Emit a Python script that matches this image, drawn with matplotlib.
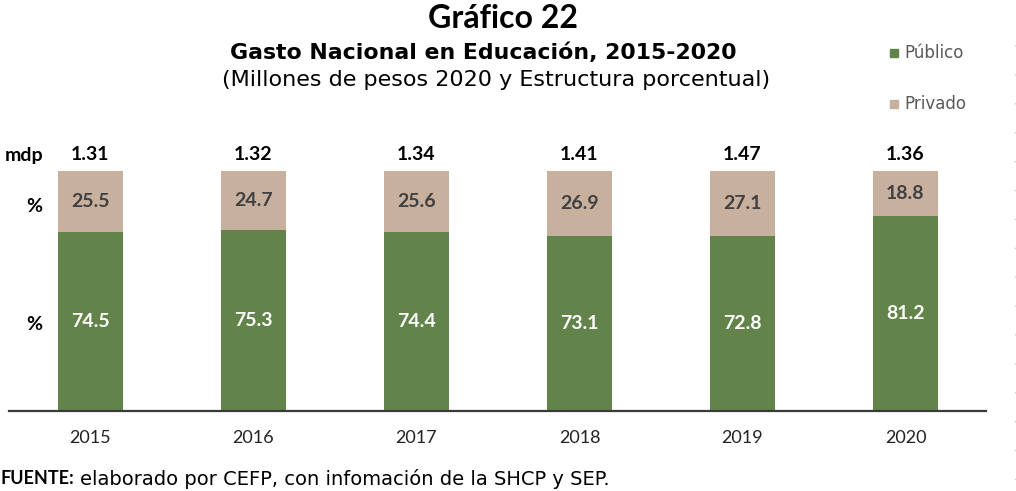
import matplotlib
matplotlib.use("Agg")
import matplotlib.pyplot as plt
from matplotlib.lines import Line2D

# Data
years = ["2015", "2016", "2017", "2018", "2019", "2020"]
publico = [74.5, 75.3, 74.4, 73.1, 72.8, 81.2]
privado = [25.5, 24.7, 25.6, 26.9, 27.1, 18.8]
totales = ["1.31", "1.32", "1.34", "1.41", "1.47", "1.36"]

GREEN = "#62834A"
TAN = "#C8B09F"
NUM_FONT = ["Lato", "DejaVu Sans"]
TXT_FONT = ["DejaVu Sans"]

W, H = 1016, 491
plt.rcParams["font.family"] = NUM_FONT

fig = plt.figure(figsize=(W / 100, H / 100), dpi=100)


def fx(x):
    return x / W


def fy(y):
    return 1 - y / H


ax = fig.add_axes([fx(9), fy(411), (986 - 9) / W, 240 / H])
x = list(range(len(years)))
bw = 0.40

ax.bar(x, publico, width=bw, color=GREEN, zorder=2)
ax.bar(x, privado, width=bw, bottom=publico, color=TAN, zorder=2)

for i in x:
    ax.text(i, publico[i] / 2, f"{publico[i]:.1f}", ha="center", va="center",
            color="white", fontsize=14, fontweight="bold")
    ax.text(i, publico[i] + privado[i] / 2, f"{privado[i]:.1f}", ha="center",
            va="center", color="#404040", fontsize=14, fontweight="bold")
    ax.annotate(totales[i], (i, publico[i] + privado[i]), xytext=(0, 12),
                textcoords="offset points", ha="center", va="center",
                fontsize=14, fontweight="bold", color="black")

ax.set_xlim(-0.5, 5.494)
ax.set_ylim(0, 100)
ax.set_xticks(x)
ax.set_xticklabels(years, fontsize=13, color="#222222")
ax.tick_params(axis="x", length=0, pad=14)
ax.set_yticks([])
for s in ["top", "left", "right"]:
    ax.spines[s].set_visible(False)
ax.spines["bottom"].set_color("#3a3a3a")
ax.spines["bottom"].set_linewidth(1.6)
ax.spines["bottom"].set_zorder(3)

# Row labels
fig.text(fx(5), fy(155), "mdp", ha="left", va="center", fontsize=14, fontweight="bold")
fig.text(fx(34), fy(206), "%", ha="center", va="center", fontsize=14, fontweight="bold")
fig.text(fx(34), fy(325), "%", ha="center", va="center", fontsize=14, fontweight="bold")

# Titles
fig.text(fx(503), fy(19), "Gráfico 22", ha="center", va="center",
         fontsize=23, fontweight="bold")
fig.text(fx(483), fy(53), "Gasto Nacional en Educación, 2015-2020", ha="center",
         va="center", fontsize=15.8, fontweight="bold", family=TXT_FONT)
fig.text(fx(496), fy(80), "(Millones de pesos 2020 y Estructura porcentual)",
         ha="center", va="center", fontsize=16, family=TXT_FONT)

# Legend
fig.patches.append(plt.Rectangle((fx(890), fy(57)), 8 / W, 8 / H, color=GREEN,
                                 transform=fig.transFigure, figure=fig))
fig.text(fx(904), fy(53), "Público", ha="left", va="center", fontsize=12,
         color="#595959", family=TXT_FONT)
fig.patches.append(plt.Rectangle((fx(890), fy(108)), 8 / W, 8 / H, color=TAN,
                                 transform=fig.transFigure, figure=fig))
fig.text(fx(904), fy(104), "Privado", ha="left", va="center", fontsize=12,
         color="#595959", family=TXT_FONT)

# Source note
src_bold = fig.text(fx(1), fy(479), "FUENTE:", ha="left", va="center",
                    fontsize=13, fontweight="bold", family=NUM_FONT)
ax.annotate("elaborado por CEFP, con infomación de la SHCP y SEP.",
            xy=(1, 0.5), xycoords=src_bold, xytext=(4, 0),
            textcoords="offset points", ha="left", va="center",
            fontsize=14, family=TXT_FONT, annotation_clip=False)

# Faint dotted border on the right
fig.lines.append(Line2D([fx(1015), fx(1015)], [fy(45), fy(491)],
                        transform=fig.transFigure, color="#c8c8c8", lw=1,
                        linestyle=(0, (0.8, 20))))

fig.savefig("out.png", dpi=100)
